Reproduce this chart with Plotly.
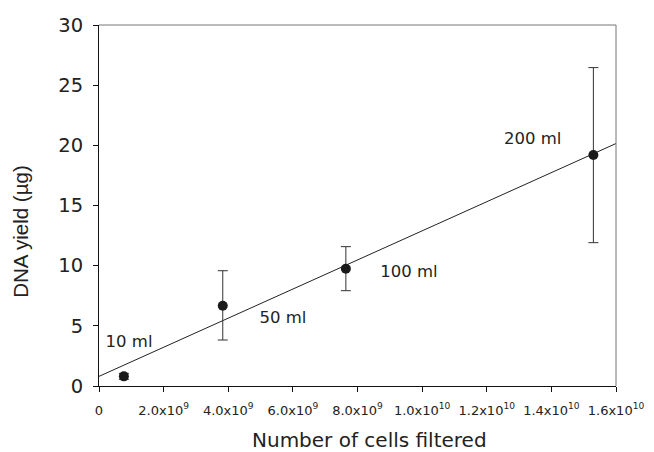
import plotly.graph_objects as go

cells = [0.77e9, 3.83e9, 7.64e9, 1.53e10]
dna = [0.8, 6.67, 9.75, 19.2]
err_plus = [0.25, 2.91, 1.83, 7.26]
err_minus = [0.25, 2.85, 1.83, 7.29]

fit_x = [0, 1.6e10]
fit_y = [0.8, 20.15]

label_text = ["10 ml", "50 ml", "100 ml", "200 ml"]
label_x = [0.93e9, 5.69e9, 9.59e9, 1.342e10]
label_y = [3.57, 5.57, 9.39, 20.45]

xtick_vals = [0, 2e9, 4e9, 6e9, 8e9, 1e10, 1.2e10, 1.4e10, 1.6e10]
xtick_text = ["0", "2.0x10<sup>9</sup>", "4.0x10<sup>9</sup>", "6.0x10<sup>9</sup>",
              "8.0x10<sup>9</sup>", "1.0x10<sup>10</sup>", "1.2x10<sup>10</sup>",
              "1.4x10<sup>10</sup>", "1.6x10<sup>10</sup>"]
ytick_vals = [0, 5, 10, 15, 20, 25, 30]

font = "DejaVu Sans, Verdana, sans-serif"
font2 = "Liberation Sans, Arial, sans-serif"

fig = go.Figure()
fig.add_trace(go.Scatter(x=fit_x, y=fit_y, mode="lines",
                         line=dict(color="#222222", width=1), showlegend=False,
                         hoverinfo="skip"))
fig.add_trace(go.Scatter(
    x=cells, y=dna, mode="markers",
    marker=dict(color="#1a1a1a", size=10),
    error_y=dict(type="data", symmetric=False, array=err_plus, arrayminus=err_minus,
                 color="#333333", thickness=1, width=5),
    showlegend=False))
fig.add_trace(go.Scatter(x=label_x, y=label_y, mode="text", text=label_text,
                         textfont=dict(family=font, size=16.5, color="#222222"),
                         showlegend=False, hoverinfo="skip"))

fig.update_layout(
    width=654, height=452,
    margin=dict(l=91, r=46, t=17, b=74),
    paper_bgcolor="white", plot_bgcolor="white",
    font=dict(family=font, color="#222222"),
    xaxis=dict(range=[0, 1.6e10], tickmode="array", tickvals=xtick_vals,
               ticktext=xtick_text, tickfont=dict(size=13, family=font),
               ticklabelstandoff=7,
               showgrid=False, zeroline=False, showline=True, linecolor="#111111",
               linewidth=1, ticks="outside", ticklen=5, tickcolor="#111111",
               automargin=False),
    yaxis=dict(range=[0, 30], tickmode="array", tickvals=ytick_vals,
               tickfont=dict(size=19.5, family=font), ticklabelstandoff=6,
               showgrid=False, zeroline=False, showline=True, linecolor="#111111",
               linewidth=1, ticks="outside", ticklen=5, tickcolor="#111111",
               automargin=False),
    shapes=[
        dict(type="line", xref="paper", yref="paper", x0=0, x1=1, y0=1, y1=1,
             line=dict(color="#777777", width=1)),
        dict(type="line", xref="paper", yref="paper", x0=1, x1=1, y0=0, y1=1,
             line=dict(color="#777777", width=1)),
    ],
    annotations=[
        dict(text="Number of cells filtered", xref="paper", yref="paper",
             x=0.524, y=0, yshift=-54, xanchor="center", yanchor="middle",
             showarrow=False, font=dict(size=20, family=font, color="#222222")),
        dict(text="DNA yield (µg)", xref="paper", yref="paper", textangle=-90,
             x=0, y=0.427, xshift=-78, xanchor="center", yanchor="middle",
             showarrow=False, font=dict(size=20.5, family=font2, color="#222222")),
    ],
)

fig.write_html("out.html")
